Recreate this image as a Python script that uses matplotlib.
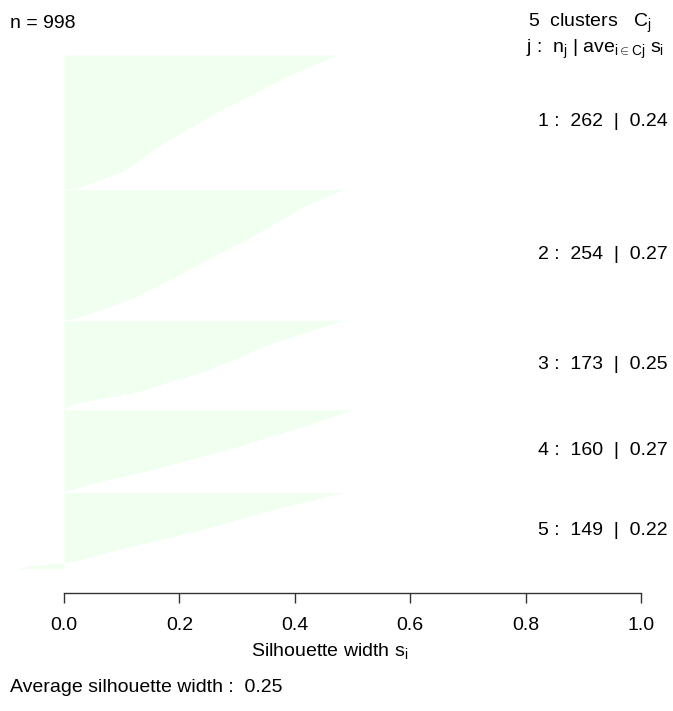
import numpy as np
import matplotlib.pyplot as plt

plt.rcParams['font.family'] = ['Liberation Sans', 'DejaVu Sans']
plt.rcParams['mathtext.fontset'] = 'custom'
plt.rcParams['mathtext.rm'] = 'Liberation Sans'
plt.rcParams['mathtext.it'] = 'Liberation Sans'

# cluster sizes and average silhouette widths
sizes = [262, 254, 173, 160, 149]
aves = [0.24, 0.27, 0.25, 0.27, 0.22]
avg_width = 0.25

# silhouette profile: (rank inside cluster, width)
prof1 = [(0, 0.473), (20, 0.43), (45, 0.38), (112, 0.265), (176, 0.167), (229, 0.10), (249, 0.05), (262, 0.02)]
prof2 = [(0, 0.484), (30, 0.42), (95, 0.32), (161, 0.207), (212, 0.12), (240, 0.05), (254, 0.01)]
prof3 = [(0, 0.484), (44, 0.36), (97, 0.25), (142, 0.12), (162, 0.02), (173, 0.0)]
prof4 = [(0, 0.50), (34, 0.41), (79, 0.28), (118, 0.15), (144, 0.05), (160, 0.0)]
prof5 = [(0, 0.484), (34, 0.36), (74, 0.235), (113, 0.09), (138, 0.005), (140, -0.02),
         (144, -0.06), (149, -0.08)]
profiles = [prof1, prof2, prof3, prof4, prof5]

fill = '#F0FFF0'
gap = 2
fs = 14

fig = plt.figure(figsize=(6.73, 7.11), dpi=100)
ax = fig.add_axes([0, 0, 1, 1])

# pixel mapping: x=0 at 64px, x=1 at 641px ; unit 0 at 55px, 0.5104 px per bar
pxu = 0.5104
ax.set_xlim(-64 / 577, (673 - 64) / 577)
ax.set_ylim((711 - 55) / pxu, -55 / pxu)

start = 0
for n, ave, prof, j in zip(sizes, aves, profiles, range(1, 6)):
    r = np.array([p[0] for p in prof], float)
    w = np.array([p[1] for p in prof], float)
    y = start + r
    ax.fill_betweenx(y, 0, w, color=fill, lw=0)
    ax.text((668 - 64) / 577, start + n / 2,
            '%d :  %d  |  %.2f' % (j, n, ave), ha='right', va='center', fontsize=fs)
    start += n + gap

sp = ax.spines['bottom']
for s in ['top', 'right', 'left']:
    ax.spines[s].set_visible(False)
sp.set_position(('data', (593 - 55) / pxu))
sp.set_bounds(0, 1)
sp.set_linewidth(1.0)
sp.set_color('#333333')
ax.set_xticks([0, 0.2, 0.4, 0.6, 0.8, 1.0])
ax.set_xticklabels(['0.0', '0.2', '0.4', '0.6', '0.8', '1.0'])
ax.tick_params(axis='x', direction='out', length=7.2, width=1.0, color='#333333',
               pad=10, labelsize=fs)
ax.set_yticks([])
ax.patch.set_alpha(0)

fig.text(10 / 673, 1 - 28 / 711, 'n = 998', ha='left', va='baseline', fontsize=fs)
fig.text(528 / 673, 1 - 27 / 711, r'5  clusters   $\mathrm{C_j}$', ha='left', va='baseline', fontsize=fs)
fig.text(526 / 673, 1 - 53 / 711, r'j :  $\mathrm{n_j}$ | $\mathrm{ave_{i\in Cj}}$ $\mathrm{s_i}$',
         ha='left', va='baseline', fontsize=fs)
fig.text(330 / 673, 1 - 651 / 711, r'Silhouette width $\mathrm{s_i}$', ha='center', va='center', fontsize=fs)
fig.text(10 / 673, 1 - 688 / 711, 'Average silhouette width :  %.2f' % avg_width,
         ha='left', va='center', fontsize=fs)

plt.savefig('out.png', dpi=100)
